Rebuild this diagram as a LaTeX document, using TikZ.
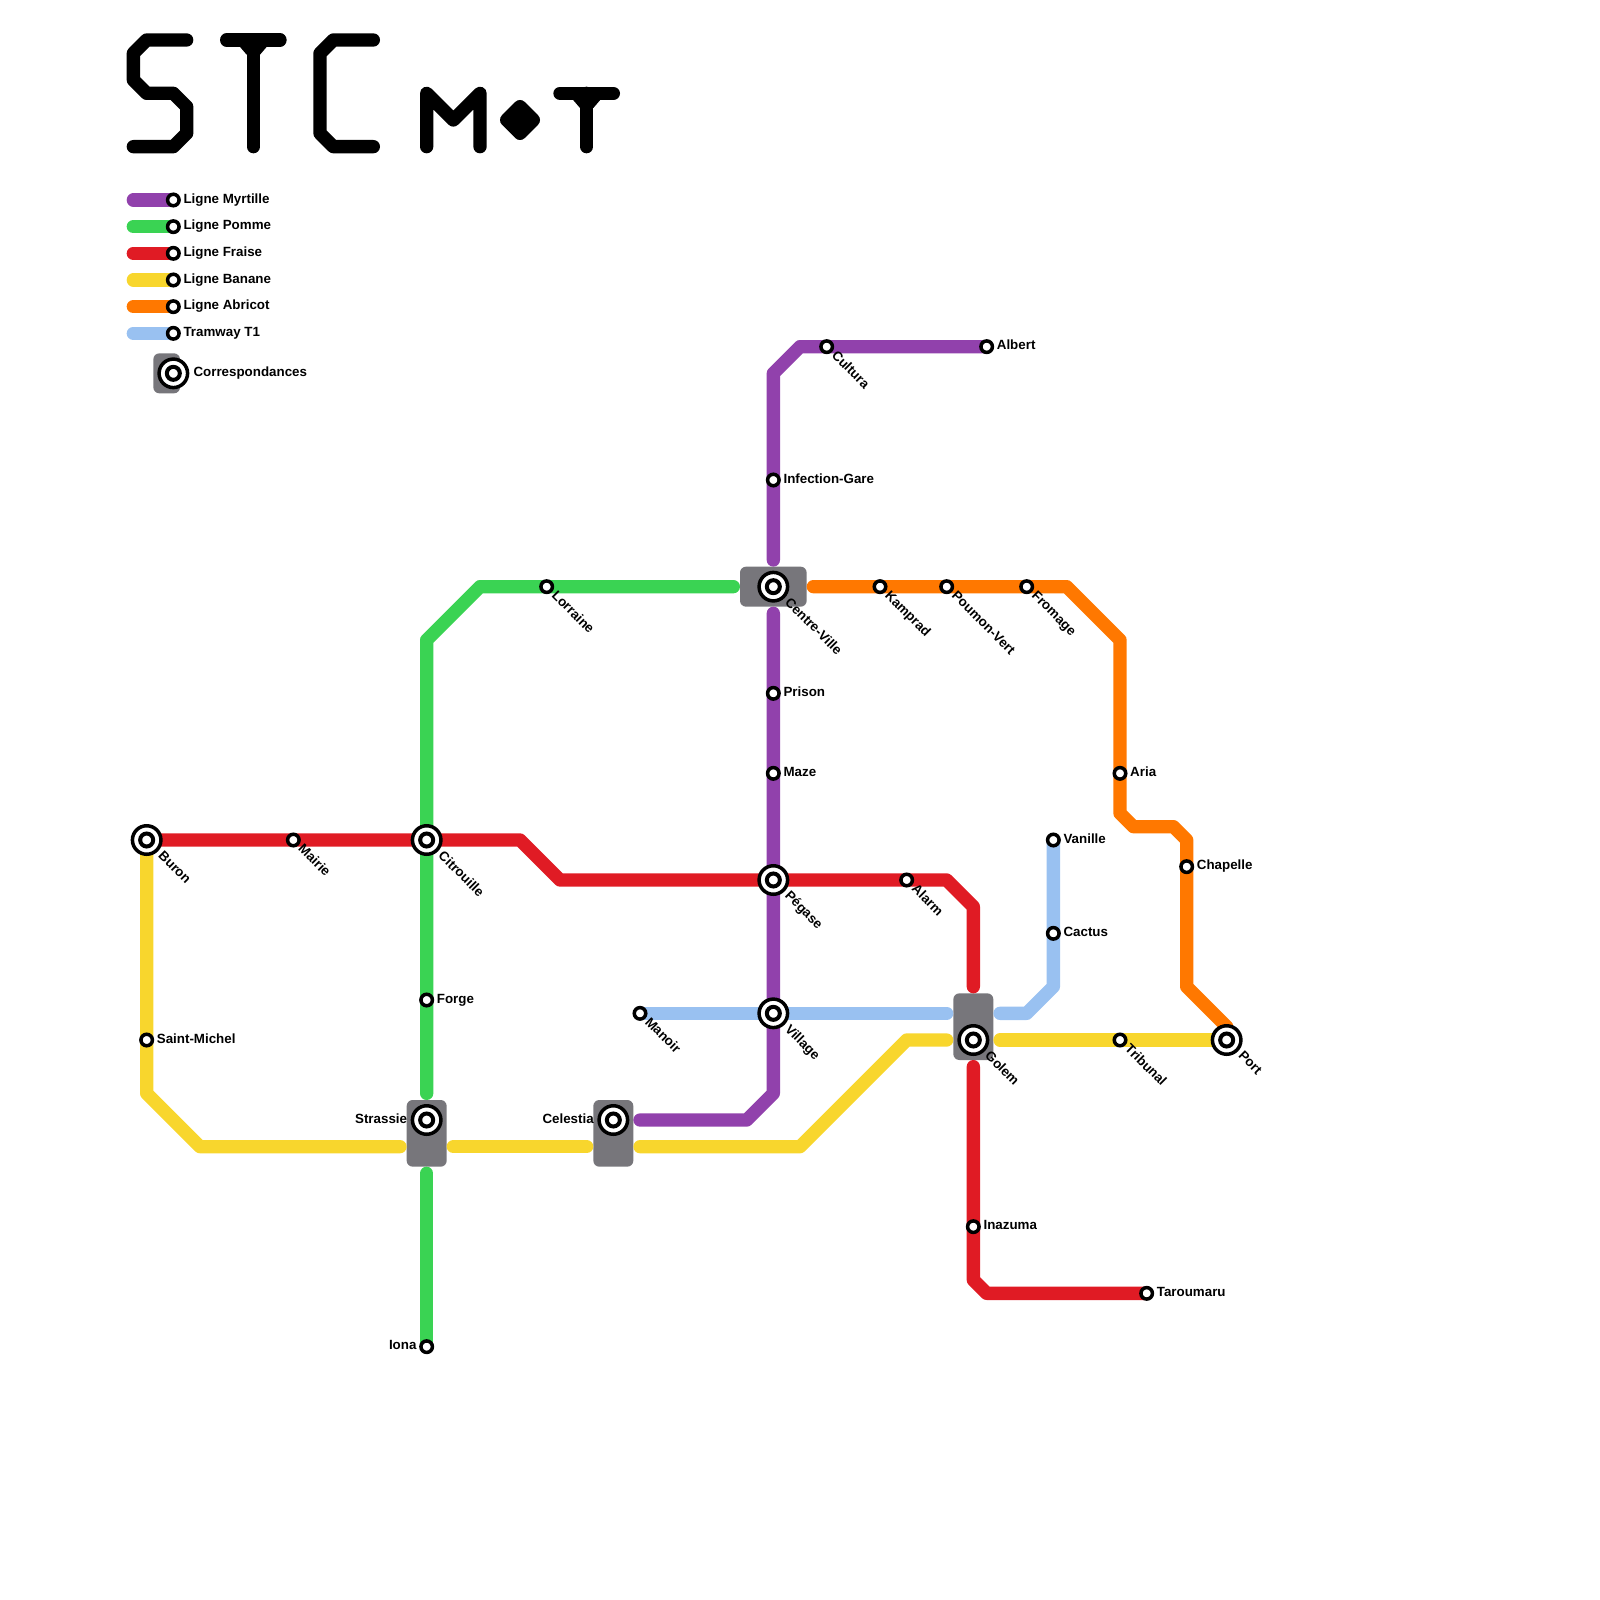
\documentclass[tikz,border=0pt]{standalone}
\usepackage{fontspec}
\setmainfont{Liberation Sans}
\usetikzlibrary{calc}
\definecolor{cPurple}{HTML}{9141AC}
\definecolor{cGreen}{HTML}{3AD353}
\definecolor{cRed}{HTML}{E01B24}
\definecolor{cYellow}{HTML}{F8D62D}
\definecolor{cOrange}{HTML}{FF7800}
\definecolor{cBlue}{HTML}{99C1F1}
\definecolor{cGrey}{HTML}{77767B}
\tikzset{
  metro/.style={line width=13.33pt,line cap=round,line join=round},
  glyph/.style={metro,draw=black},
  stn/.style={circle,inner sep=0pt,minimum size=11.5pt,draw=black,fill=white,line width=3.5pt},
  xouter/.style={circle,inner sep=0pt,minimum size=28.5pt,draw=black,fill=white,line width=3.5pt},
  xinner/.style={circle,inner sep=0pt,minimum size=13pt,draw=black,fill=white,line width=4pt},
  hub/.style={fill=cGrey,rounded corners=6pt},
  txt/.style={inner sep=0pt,font=\bfseries\fontsize{13.35pt}{15pt}\selectfont,text=black},
  lr/.style={txt,anchor=base west,xshift=10pt,yshift=-3.3pt},
  ll/.style={txt,anchor=base east,xshift=-10pt,yshift=-3.3pt},
  lhl/.style={txt,anchor=base east,xshift=-19.4pt,yshift=-3.3pt},
  ldiag/.style={txt,anchor=base west,rotate=-45},
}
\begin{document}
\begin{tikzpicture}[x=26.6667pt,y=-26.6667pt]
\useasboundingbox (0,0) rectangle (60,60);
% stations
\foreach \n/\p in {albert/{37,13},cultura/{31,13},infection/{29,18},centre/{29,22},prison/{29,26},maze/{29,29},pegase/{29,33},village/{29,38},celestia/{23,42},
  iona/{16,50.5},strassie/{16,42},forge/{16,37.5},citrouille/{16,31.5},lorraine/{20.5,22},
  buron/{5.5,31.5},mairie/{11,31.5},alarm/{34,33},golem/{36.5,39},inazuma/{36.5,46},taroumaru/{43,48.5},
  saintmichel/{5.5,39},tribunal/{42,39},port/{46,39},
  kamprad/{33,22},poumon/{35.5,22},fromage/{38.5,22},aria/{42,29},chapelle/{44.5,32.5},
  manoir/{24,38},cactus/{39.5,35},vanille/{39.5,31.5},
  % bends and line ends
  pa/{30,13},pb/{29,14},pc/{29,21},pd/{29,23},pe/{29,41},pf/{28,42},pg/{24,42},
  ga/{16,41},gb/{16,44},gc/{16,24},gd/{18,22},ge/{27.5,22},
  ra/{19.5,31.5},rb/{21,33},rc/{35.5,33},rd/{36.5,34},re/{36.5,37},rf/{36.5,40},rg/{36.5,48},rh/{37,48.5},
  ya/{5.5,41},yb/{7.5,43},yc/{15,43},yd/{17,43},ye/{22,43},yf/{24,43},yg/{30,43},yh/{34,39},yi/{35.5,39},yj/{37.5,39},
  oa/{30.5,22},ob/{40,22},oc/{42,24},od/{42,30.5},oe/{42.5,31},of/{44,31},og/{44.5,31.5},oh/{44.5,37},oi/{46,38.5},
  ta/{35.5,38},tb/{37.5,38},tc/{38.5,38},td/{39.5,37}}
  {\coordinate (\n) at (\p);}
% interchange boxes
\fill[hub] (27.75,21.25) rectangle (30.25,22.75);
\fill[hub] (15.25,41.25) rectangle (16.75,43.75);
\fill[hub] (22.25,41.25) rectangle (23.75,43.75);
\fill[hub] (35.75,37.25) rectangle (37.25,39.75);
\fill[hub] (5.75,13.25) rectangle (6.75,14.75);
% lines
\draw[metro,cBlue] (manoir) -- (village) -- (ta);
\draw[metro,cBlue] (tb) -- (tc) -- (td) -- (cactus) -- (vanille);
\draw[metro,cYellow] (buron) -- (saintmichel) -- (ya) -- (yb) -- (yc);
\draw[metro,cYellow] (yd) -- (ye);
\draw[metro,cYellow] (yf) -- (yg) -- (yh) -- (yi);
\draw[metro,cYellow] (yj) -- (tribunal) -- (port);
\draw[metro,cOrange] (oa) -- (kamprad) -- (poumon) -- (fromage) -- (ob) -- (oc) -- (aria) -- (od) -- (oe) -- (of) -- (og) -- (chapelle) -- (oh) -- (oi) -- (port);
\draw[metro,cGreen] (ge) -- (lorraine) -- (gd) -- (gc) -- (citrouille) -- (forge) -- (ga);
\draw[metro,cGreen] (gb) -- (iona);
\draw[metro,cPurple] (albert) -- (cultura) -- (pa) -- (pb) -- (infection) -- (pc);
\draw[metro,cPurple] (pd) -- (prison) -- (maze) -- (pegase) -- (village) -- (pe) -- (pf) -- (pg);
\draw[metro,cRed] (buron) -- (mairie) -- (citrouille) -- (ra) -- (rb) -- (pegase) -- (alarm) -- (rc) -- (rd) -- (re);
\draw[metro,cRed] (rf) -- (inazuma) -- (rg) -- (rh) -- (taroumaru);
% title
\coordinate (S1) at (7,1.5);\coordinate (S2) at (5.5,1.5);\coordinate (S3) at (5,2);\coordinate (S4) at (5,3);\coordinate (S5) at (5.5,3.5);
\coordinate (S6) at (6.5,3.5);\coordinate (S7) at (7,4);\coordinate (S8) at (7,5);\coordinate (S9) at (6.5,5.5);\coordinate (S10) at (5,5.5);
\draw[glyph] (S1)--(S2)--(S3)--(S4)--(S5)--(S6)--(S7)--(S8)--(S9)--(S10);
\coordinate (T1) at (8.5,1.5);\coordinate (T2) at (10.5,1.5);\coordinate (T3) at (9.5,1.5);\coordinate (T4) at (9.5,5.5);
\draw[glyph] (T1)--(T2); \draw[glyph] (T3)--(T4);
\fill (8.95,1.7)--(9.25,2.05)--(9.75,2.05)--(10.05,1.7)--cycle;
\coordinate (C1) at (14,1.5);\coordinate (C2) at (12.5,1.5);\coordinate (C3) at (12,2);\coordinate (C4) at (12,5);\coordinate (C5) at (12.5,5.5);\coordinate (C6) at (14,5.5);
\draw[glyph] (C1)--(C2)--(C3)--(C4)--(C5)--(C6);
\coordinate (M1) at (16,5.5);\coordinate (M2) at (16,3.5);\coordinate (M3) at (17,4.5);\coordinate (M4) at (18,3.5);\coordinate (M5) at (18,5.5);
\draw[glyph] (M1)--(M2)--(M3)--(M4)--(M5);
\coordinate (D1) at (19,4.5);\coordinate (D2) at (19.5,4);\coordinate (D3) at (20,4.5);\coordinate (D4) at (19.5,5);
\filldraw[glyph] (D1)--(D2)--(D3)--(D4)--cycle;
\coordinate (U1) at (21,3.5);\coordinate (U2) at (23,3.5);\coordinate (U3) at (22,3.5);\coordinate (U4) at (22,5.5);
\draw[glyph] (U1)--(U2); \draw[glyph] (U3)--(U4);
\fill (21.45,3.7)--(21.75,4.05)--(22.25,4.05)--(22.55,3.7)--cycle;
% legend
\foreach \c/\y/\t [count=\i] in {cPurple/7.5/Ligne Myrtille,cGreen/8.5/Ligne Pomme,cRed/9.5/Ligne Fraise,cYellow/10.5/Ligne Banane,cOrange/11.5/Ligne Abricot,cBlue/12.5/Tramway T1}{
  \coordinate (la\i) at (5,\y);
  \coordinate (lb\i) at (6.5,\y);
  \draw[metro,\c] (la\i) -- (lb\i);
  \node[stn] (lc\i) at (lb\i) {};
  \node[txt,anchor=base west,xshift=10pt,yshift=-3.3pt] (lt\i) at (lb\i) {\t};
}
\node[xouter] (lxo) at (6.5,14) {};
\node[xinner] (lxi) at (lxo) {};
\node[txt,anchor=base west,xshift=20pt,yshift=-3.3pt] (lxt) at (lxo) {Correspondances};
% interchange markers
\foreach \n in {centre,pegase,village,citrouille,buron,strassie,celestia,golem,port}{
  \node[xouter] (xo-\n) at (\n) {};
  \node[xinner] (xi-\n) at (\n) {};
}
% plain station markers
\foreach \n in {albert,cultura,infection,prison,maze,forge,iona,lorraine,mairie,alarm,inazuma,taroumaru,saintmichel,tribunal,kamprad,poumon,fromage,aria,chapelle,manoir,cactus,vanille}{
  \node[stn] (st-\n) at (\n) {};
}
% labels right
\node[lr] (t-albert) at (albert) {Albert};
\node[lr] (t-infection) at (infection) {Infection-Gare};
\node[lr] (t-prison) at (prison) {Prison};
\node[lr] (t-maze) at (maze) {Maze};
\node[lr] (t-forge) at (forge) {Forge};
\node[lr] (t-saintmichel) at (saintmichel) {Saint-Michel};
\node[lr] (t-inazuma) at (inazuma) {Inazuma};
\node[lr] (t-taroumaru) at (taroumaru) {Taroumaru};
\node[lr] (t-aria) at (aria) {Aria};
\node[lr] (t-chapelle) at (chapelle) {Chapelle};
\node[lr] (t-cactus) at (cactus) {Cactus};
\node[lr] (t-vanille) at (vanille) {Vanille};
% labels left
\node[ll] (t-iona) at (iona) {Iona};
\node[lhl] (t-strassie) at (strassie) {Strassie};
\node[lhl] (t-celestia) at (celestia) {Celestia};
% labels diagonal
\foreach \n/\t in {cultura/Cultura,lorraine/Lorraine,mairie/Mairie,alarm/Alarm,kamprad/Kamprad,poumon/Poumon-Vert,fromage/Fromage,manoir/Manoir,tribunal/Tribunal}
  {\node[ldiag] (t-\n) at ($(\n)+(.16,.36)$) {\t};}
\foreach \n/\t in {centre/Centre-Ville,pegase/Pégase,village/Village,citrouille/Citrouille,buron/Buron,golem/Golem,port/Port}
  {\node[ldiag] (t-\n) at ($(\n)+(.41,.62)$) {\t};}
\end{tikzpicture}
\end{document}
